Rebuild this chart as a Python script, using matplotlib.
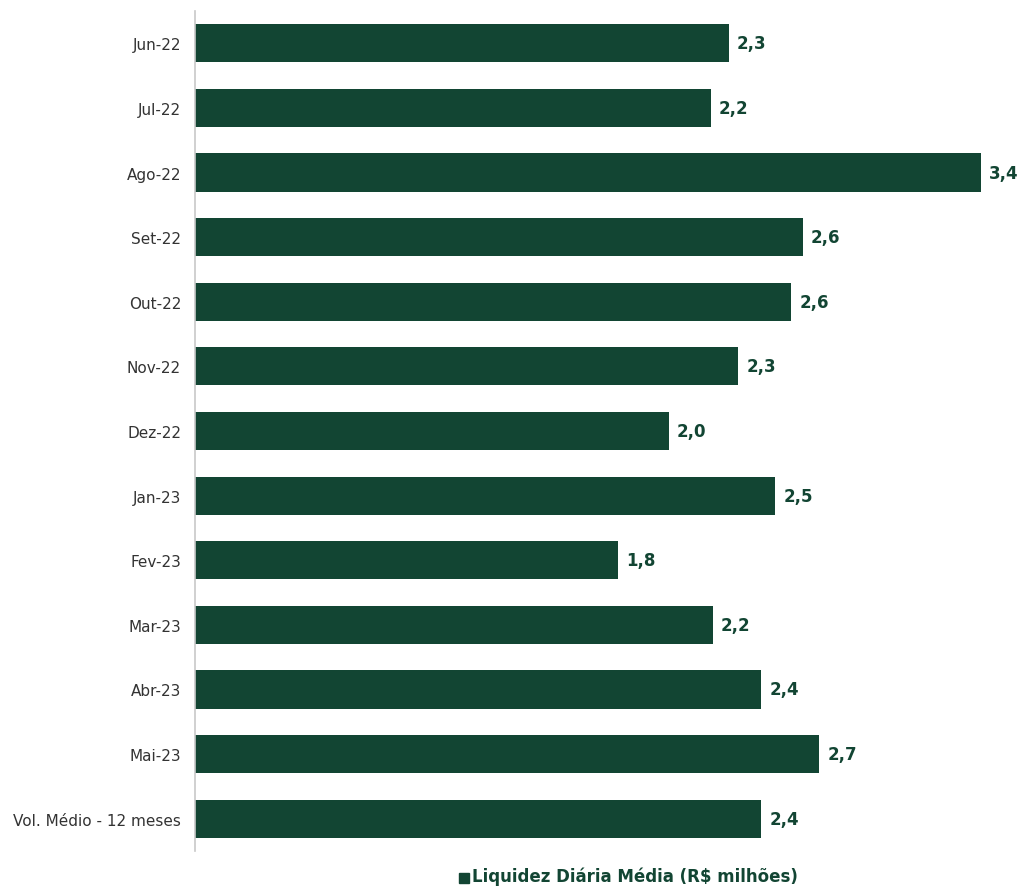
import matplotlib
matplotlib.use("Agg")
import matplotlib.pyplot as plt
from matplotlib.patches import Rectangle

categories = ["Jun-22", "Jul-22", "Ago-22", "Set-22", "Out-22", "Nov-22", "Dez-22",
              "Jan-23", "Fev-23", "Mar-23", "Abr-23", "Mai-23", "Vol. Médio - 12 meses"]
values = [2.31, 2.23, 3.40, 2.63, 2.58, 2.35, 2.05, 2.51, 1.83, 2.24, 2.45, 2.70, 2.45]
value_labels = ["2,3", "2,2", "3,4", "2,6", "2,6", "2,3", "2,0", "2,5", "1,8", "2,2", "2,4", "2,7", "2,4"]
legend_label = "Liquidez Diária Média (R$ milhões)"

color = "#124533"
plt.rcParams['font.family'] = ['DejaVu Sans']

fig = plt.figure(figsize=(10.19, 8.87), dpi=100)
W, H = 1019, 887
ax = fig.add_axes([195 / W, 1 - 852 / H, (1010 - 195) / W, (852 - 12) / H])

y = list(range(len(categories)))
ax.barh(y, values, height=0.59, color=color, zorder=2)
ax.set_ylim(len(categories) - 0.5, -0.5)
ax.set_xlim(0, 3.4 * 815 / 786)

for yi, v, lab in zip(y, values, value_labels):
    ax.text(v + 0.035, yi, lab, va="center", ha="left", fontsize=12,
            fontweight="bold", color=color)

ax.set_yticks(y)
ax.set_yticklabels(categories, fontsize=11, color="#333333")
ax.tick_params(axis="y", length=0, pad=10)
ax.set_xticks([])
for s in ["top", "right", "bottom"]:
    ax.spines[s].set_visible(False)
ax.spines["left"].set_color("#c8c8c8")
ax.spines["left"].set_linewidth(1.2)

# legend
fig.patches.append(Rectangle((459 / W, 1 - 884 / H), 10 / W, 10 / H,
                             transform=fig.transFigure, color=color))
fig.text(472 / W, 1 - 876.5 / H, legend_label, ha="left", va="center",
         fontsize=12, fontweight="bold", color=color)

fig.savefig("out.png", dpi=100)
